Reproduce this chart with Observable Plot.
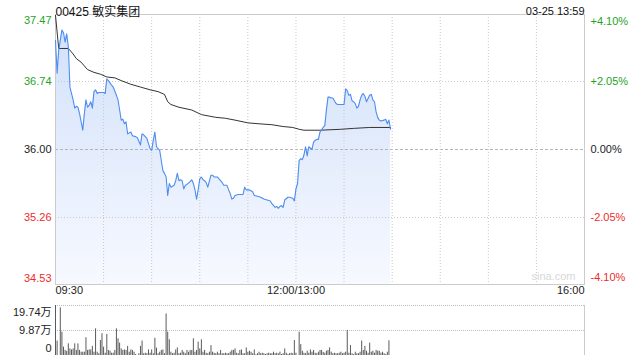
<!DOCTYPE html>
<html><head><meta charset="utf-8">
<script src="https://cdn.jsdelivr.net/npm/d3@7"></script>
<script src="https://cdn.jsdelivr.net/npm/@observablehq/plot@0.6"></script>
<style>
body{margin:0;background:#fff;}
#chart{width:640px;height:360px;overflow:hidden;}
#chart svg{display:block;}
</style></head><body><div id="chart"></div>
<script>
// ---- data ----
const title = "00425 敏实集团";
const stamp = "03-25 13:59";
const prevClose = 36.00;
const priceTicks = [37.47, 36.74, 36.00, 35.26, 34.53];
const pctLabels = ["+4.10%", "+2.05%", "0.00%", "-2.05%", "-4.10%"];
const timeTickMin = [0, 150, 330];
const timeTickLabels = ["09:30", "12:00/13:00", "16:00"];
const gridMin = [30, 60, 90, 120, 150, 180, 210, 240, 270, 300];
const sessionMinutes = 330;

// minutes since 09:30 (12:00 and 13:00 share minute 150)
const priceMin = [0,1,2,3,4,5,6,7,8,9,11,12,13,14,15,17,18,19,20,21,22,23,24,25,26,27,30,31,32,33,35,36,38,39,40,41,42,43,44,45,47,48,50,51,53,54,55,57,59,60,61,62,63,65,66,67,68,69,70,71,72,74,75,76,77,78,79,80,81,82,84,85,86,87,88,89,90,91,92,93,94,95,97,98,99,101,103,104,105,107,108,109,110,111,112,114,117,118,119,121,123,124,126,128,130,132,134,135,137,138,139,140,141,142,143,145,146,148,149,150,151,152,153,154,155,156,157,158,160,161,162,163,164,165,167,168,169,170,171,172,173,175,176,178,180,181,182,183,184,185,186,187,188,189,190,191,192,193,194,196,197,198,199,200,201,202,203,205,206,207,208,209];
const price = [37.19,36.83,37.08,37.19,37.30,37.27,37.17,37.26,37.12,36.68,36.54,36.45,36.47,36.46,36.39,36.21,36.39,36.54,36.46,36.48,36.52,36.45,36.63,36.65,36.61,36.62,36.62,36.61,36.77,36.75,36.70,36.68,36.59,36.54,36.43,36.32,36.33,36.28,36.30,36.17,36.19,36.15,36.14,36.13,36.05,36.17,36.16,36.12,36.01,35.99,36.10,36.19,36.03,35.99,35.88,35.77,35.74,35.70,35.50,35.63,35.59,35.61,35.66,35.74,35.66,35.67,35.66,35.57,35.61,35.62,35.65,35.67,35.63,35.56,35.46,35.56,35.68,35.70,35.67,35.66,35.64,35.59,35.72,35.72,35.70,35.70,35.66,35.64,35.61,35.61,35.56,35.52,35.46,35.47,35.50,35.51,35.51,35.59,35.56,35.56,35.54,35.50,35.49,35.48,35.46,35.45,35.44,35.41,35.37,35.38,35.36,35.38,35.39,35.37,35.45,35.48,35.48,35.47,35.44,35.57,35.63,35.88,35.90,35.89,35.94,36.03,35.93,36.03,36.00,36.08,36.10,36.11,36.11,36.19,36.24,36.26,36.43,36.57,36.57,36.56,36.56,36.50,36.49,36.49,36.49,36.66,36.64,36.59,36.60,36.53,36.52,36.50,36.45,36.47,36.54,36.59,36.61,36.58,36.52,36.59,36.60,36.54,36.52,36.41,36.35,36.32,36.31,36.32,36.33,36.28,36.32,36.22];

const avgMin = [0,2,4,8,11,13,16,18,20,24,28,32,37,41,47,53,59,64,68,70,72,77,85,91,100,106,112,120,127,135,142,148,152,155,165,178,186,196,209];
const avgPrice = [37.46,37.10,37.10,37.10,37.04,36.99,36.95,36.91,36.87,36.84,36.82,36.79,36.78,36.75,36.71,36.68,36.65,36.63,36.60,36.52,36.49,36.46,36.43,36.38,36.35,36.34,36.32,36.29,36.28,36.27,36.25,36.24,36.22,36.21,36.21,36.22,36.23,36.24,36.24];

// volume per minute from 09:30, in 万股
const volume = [19.74,5.7,0,18.8,9.2,3.3,2.0,1.6,4.6,2.6,2.2,2.6,4.6,2.0,4.6,2.0,1.3,1.3,1.3,7.0,2.0,2.2,2.2,3.6,1.3,10.5,1.3,0.7,5.9,8.6,3.3,0.9,8.3,2.0,1.7,0.9,0.9,2.0,10.5,6.6,4.9,2.6,2.0,2.2,2.0,3.6,1.3,2.2,2.0,1.3,0.4,0,0.7,3.6,5.7,0.7,0.9,0.7,2.2,0.9,2.2,0.7,6.8,2.9,0.7,1.3,2.0,2.2,0.7,16.4,9.2,6.2,1.3,0.7,0.9,2.2,3.0,0.7,0.9,2.0,1.3,0.7,2.0,1.3,2.0,2.0,6.6,1.3,2.0,5.3,2.6,6.2,1.3,2.0,0.9,0.7,1.3,3.9,1.3,0.9,0.7,1.3,0.7,2.0,0.7,0.7,0.9,0.7,0.7,1.3,2.0,2.0,2.6,0.9,0.7,2.0,2.2,0.7,0.7,3.0,1.3,1.7,1.3,0.7,2.2,0.3,0.7,1.3,0.7,0.9,0.7,0.4,0.7,0.9,0.7,0.7,1.3,0.7,0.9,0.7,1.3,0.4,0.7,2.6,0.9,0.4,0.7,0.9,0.7,5.9,0.9,0,9.2,4.3,1.7,0.9,0.7,1.7,0.9,2.2,1.3,2.0,0.9,0.7,1.3,2.0,2.0,1.2,0.9,1.7,2.0,3.0,1.3,0.7,0.9,0.7,0.7,0.9,1.3,0.7,0.9,1.3,9.9,0.9,3.9,0.7,0.4,1.3,0.7,0.7,1.3,5.7,2.0,3.6,1.7,0.9,4.9,1.3,1.7,0.9,2.0,1.7,1.7,0.9,1.3,0.7,0.4,1.3,5.8];
const volTicks = [19.74, 9.87, 0];
const volLabels = ["19.74万", "9.87万", "0"];

// ---- build ----
const FONT = "'Liberation Sans', Arial, 'Noto Sans CJK SC', sans-serif";
const GREEN = "#1fa31f", RED = "#ee2c2c", TXT = "#222";
const colorFor = p => p > prevClose ? GREEN : p < prevClose ? RED : TXT;

const pricePts = priceMin.map((t, i) => ({t, p: price[i]}));
const avgPts = avgMin.map((t, i) => ({t, p: avgPrice[i]}));
const volPts = volume.map((v, t) => ({t, v})).filter(d => d.v > 0);
const yMin = priceTicks[priceTicks.length - 1], yMax = priceTicks[0];

const gradientDefs = () => {
  const defs = document.createElementNS("http://www.w3.org/2000/svg", "defs");
  defs.innerHTML = '<linearGradient id="areaGrad" x1="0" y1="0" x2="0" y2="1">' +
    '<stop offset="0" stop-color="#d2e1fa"/><stop offset="1" stop-color="#f7f9ff"/></linearGradient>';
  return defs;
};

const last = priceTicks.length - 1;
const leftLabels = priceTicks.map((p, i) => Plot.text([p], {
  y: d => d, text: d => d.toFixed(2), frameAnchor: "left", textAnchor: "end",
  dx: -4, dy: i === 0 ? 6 : i === last ? -6 : 0, fill: colorFor(p), fontSize: 11
}));
const rightLabels = priceTicks.map((p, i) => Plot.text([p], {
  y: d => d, text: () => pctLabels[i], frameAnchor: "right", textAnchor: "start",
  dx: 6, dy: i === 0 ? 7 : i === last ? -7 : 0, fill: colorFor(p), fontSize: 11
}));
const anchors = ["start", "middle", "end"];
const timeLabels = timeTickMin.map((t, i) => Plot.text([t], {
  x: d => d, text: () => timeTickLabels[i], frameAnchor: "bottom", textAnchor: anchors[i],
  dy: 9, fill: TXT, fontSize: 11
}));

const main = Plot.plot({
  width: 640, height: 300,
  marginLeft: 55, marginRight: 56, marginTop: 14, marginBottom: 16,
  x: {domain: [0, sessionMinutes], axis: null},
  y: {domain: [yMin, yMax], axis: null},
  style: {fontFamily: FONT, fontSize: "11px", background: "#fff", overflow: "visible"},
  marks: [
    gradientDefs,
    Plot.areaY(pricePts, {x: "t", y1: () => yMin, y2: "p", fill: "url(#areaGrad)"}),
    Plot.ruleY([priceTicks[1], priceTicks[3]], {stroke: "#c8c8c8", strokeDasharray: "1,2"}),
    Plot.ruleY([prevClose], {stroke: "#b5b5b5", strokeDasharray: "3,2"}),
    Plot.ruleX(gridMin, {stroke: "#c8c8c8", strokeDasharray: "1,2"}),
    Plot.frame({stroke: "#cccccc"}),
    Plot.line(avgPts, {x: "t", y: "p", stroke: "#333", strokeWidth: 1}),
    Plot.line(pricePts, {x: "t", y: "p", stroke: "#4d8cf0", strokeWidth: 1.1}),
    ...leftLabels, ...rightLabels, ...timeLabels,
    Plot.text([title], {text: d => d, frameAnchor: "top-left", textAnchor: "start", dy: -7, fontSize: 12, fill: "#111"}),
    Plot.text([stamp], {text: d => d, frameAnchor: "top-right", textAnchor: "end", dy: -7, fontSize: 11, fill: "#111"}),
    Plot.text(["sina.com"], {text: d => d, frameAnchor: "bottom-right", textAnchor: "end", dx: -9, dy: -5, fontSize: 11, fill: "#d8d8d8"})
  ]
});

const volMax = volTicks[0];
const vLast = volTicks.length - 1;
const volLabelMarks = volTicks.map((v, i) => Plot.text([v], {
  y: d => d, text: () => volLabels[i], frameAnchor: "left", textAnchor: "end",
  dx: -4, dy: i === 0 ? 7 : i === vLast ? -7 : 0, fill: TXT, fontSize: 11
}));

const vol = Plot.plot({
  width: 640, height: 60,
  marginLeft: 55, marginRight: 56, marginTop: 5, marginBottom: 5,
  x: {domain: [0, sessionMinutes], axis: null},
  y: {domain: [0, volMax], axis: null},
  style: {fontFamily: FONT, fontSize: "11px", background: "#fff", overflow: "visible"},
  marks: [
    Plot.ruleY([volTicks[0], volTicks[1]], {stroke: "#bdbdbd", strokeDasharray: "1,1"}),
    Plot.ruleX([0, sessionMinutes], {y1: 0, y2: volMax, stroke: "#cccccc"}),
    Plot.ruleX(volPts, {x: "t", y1: () => 0, y2: "v", stroke: "#5a5a5a", strokeWidth: 1}),
    ...volLabelMarks
  ]
});

const root = document.getElementById("chart");
root.appendChild(main);
root.appendChild(vol);
</script></body></html>
